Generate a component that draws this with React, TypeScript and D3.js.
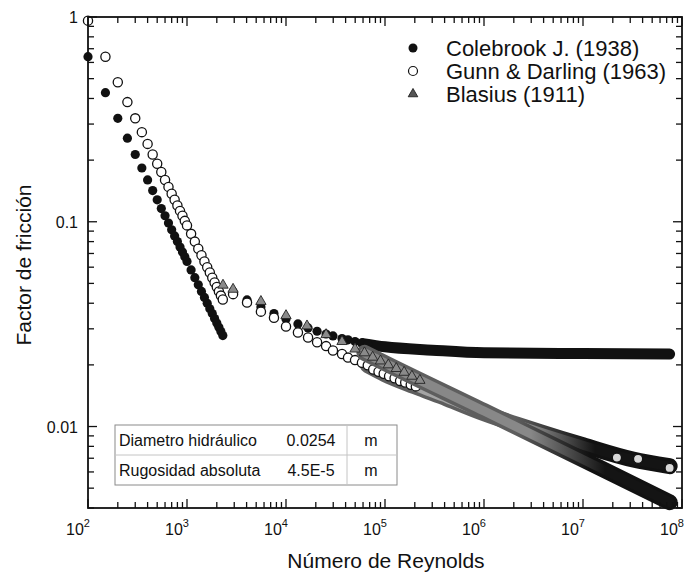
import * as d3 from "d3";

// laminar part, Re = 100 ... 2300
const lamRe = [100, 150, 200, 250, 300, 350, 400, 450, 500, 550, 600, 650, 700, 750, 800, 850, 900, 950, 1000, 1100, 1200, 1300, 1400, 1500, 1600, 1700, 1800, 1900, 2000, 2100, 2200, 2300];
const colebrookLam = [0.64, 0.427, 0.32, 0.256, 0.213, 0.183, 0.16, 0.142, 0.128, 0.116, 0.107, 0.0985, 0.0914, 0.0853, 0.08, 0.0753, 0.0711, 0.0674, 0.064, 0.0582, 0.0533, 0.0492, 0.0457, 0.0427, 0.04, 0.0376, 0.0356, 0.0337, 0.032, 0.0305, 0.0291, 0.0278];
const gunnLam = [0.96, 0.64, 0.48, 0.384, 0.32, 0.274, 0.24, 0.213, 0.192, 0.175, 0.16, 0.148, 0.137, 0.128, 0.12, 0.113, 0.107, 0.101, 0.096, 0.0873, 0.08, 0.0738, 0.0686, 0.064, 0.06, 0.0565, 0.0533, 0.0505, 0.048, 0.0457, 0.0436, 0.0417];

// turbulent markers still seen one by one
const colebrookRe = [2920, 4040, 5580, 7560, 10000, 13200, 16700, 20600, 25400, 29800, 36800, 42300, 49800, 58500, 67000];
const colebrookTurb = [0.0455, 0.0415, 0.0383, 0.0356, 0.0335, 0.0317, 0.0303, 0.0292, 0.0283, 0.0277, 0.0269, 0.0265, 0.026, 0.0256, 0.0253];
const gunnRe = [2920, 4040, 5580, 7560, 10000, 13200, 16700, 20600, 25400, 29800, 36800, 42300, 49800, 58500, 67000, 76000, 86000, 97000, 110000, 125000, 142000, 160000, 182000, 205000];
const gunnTurb = [0.0443, 0.0403, 0.0364, 0.034, 0.0308, 0.0288, 0.0272, 0.0258, 0.0247, 0.0235, 0.0226, 0.0217, 0.0211, 0.0205, 0.0199, 0.019, 0.0185, 0.0181, 0.0176, 0.0172, 0.0167, 0.0164, 0.016, 0.0157];
const blasiusRe = [2310, 2920, 5580, 10000, 16300, 25400, 36800, 49800, 62000, 75000, 90000, 108000, 130000, 156000, 187000, 225000];
const blasiusTurb = [0.049, 0.0468, 0.0408, 0.0348, 0.031, 0.0281, 0.026, 0.0239, 0.0229, 0.0218, 0.0209, 0.02, 0.0192, 0.0184, 0.0176, 0.0168];

// dense tails, where the markers merge into a band
const colebrookBandRe = [60000, 100000, 300000, 1000000, 10000000, 75000000];
const colebrookBand = [0.0254, 0.0245, 0.0236, 0.0229, 0.0227, 0.0226];
const gunnBandRe = [67000, 100000, 200000, 420000, 1000000, 3700000, 10000000, 32000000, 75000000];
const gunnBand = [0.0199, 0.018, 0.0157, 0.0137, 0.0116, 0.0094, 0.0081, 0.0069, 0.0064];
const blasiusBandRe = [62000, 100000, 1000000, 10000000, 75000000];
const blasiusBand = [0.0229, 0.0204, 0.0119, 0.0069, 0.00427];
// open circles that show on the dark Gunn & Darling tail
const gunnTailRe = [22000000, 36000000, 75000000];
const gunnTail = [0.00705, 0.00695, 0.00628];

const xExponents = ["2", "3", "4", "5", "6", "7", "8"];
const yTickValues = [0.01, 0.1, 1];
const yTickLabels = ["0.01", "0.1", "1"];
const legendLabels = ["Colebrook J. (1938)", "Gunn & Darling (1963)", "Blasius (1911)"];
const tableRows = [
  ["Diametro hidráulico", "0.0254", "m"],
  ["Rugosidad absoluta", "4.5E-5", "m"],
];

const font = "'Liberation Sans', Arial, sans-serif";

export default function App() {
  const width = 684;
  const height = 573;
  const x = d3.scaleLog([1e2, 1e8], [88, 682]);
  const y = d3.scaleLog([0.004, 1], [508, 17]);
  const line = d3
    .line<number[]>()
    .x((d) => x(d[0]))
    .y((d) => y(d[1]))
    .curve(d3.curveMonotoneX);
  const zip = (a: number[], b: number[]) => a.map((v, i) => [v, b[i]]);
  const isMajor = (v: number) => Math.abs(Math.log10(v) - Math.round(Math.log10(v))) < 1e-9;
  const tri = d3.symbol(d3.symbolTriangle, 46)();
  const triSmall = d3.symbol(d3.symbolTriangle, 40)();

  const xt = x.ticks();
  const yt = y.ticks();
  const r = 4.6;

  const gunnPts = zip(gunnBandRe, gunnBand);
  const blasPts = zip(blasiusBandRe, blasiusBand);

  return (
    <svg width={width} height={height} style={{ position: "absolute", left: 0, top: 0, background: "#fff" }} fontFamily={font}>
      <defs>
        <linearGradient id="outerG" gradientUnits="userSpaceOnUse" x1="515" x2="590" y1="0" y2="0">
          <stop offset="0" stopColor="#5e5e5e" />
          <stop offset="1" stopColor="#111" />
        </linearGradient>
        <linearGradient id="innerGunn" gradientUnits="userSpaceOnUse" x1="520" x2="595" y1="0" y2="0">
          <stop offset="0" stopColor="#a4a4a4" />
          <stop offset="1" stopColor="#141414" />
        </linearGradient>
        <linearGradient id="innerBlas" gradientUnits="userSpaceOnUse" x1="530" x2="605" y1="0" y2="0">
          <stop offset="0" stopColor="#888" />
          <stop offset="1" stopColor="#141414" />
        </linearGradient>
      </defs>

      {/* Colebrook */}
      <path d={line(zip(colebrookBandRe, colebrookBand))} fill="none" stroke="#111" strokeWidth={11} strokeLinecap="round" strokeLinejoin="round" />
      <g fill="#111">
        {zip(lamRe, colebrookLam).map((d, i) => (
          <circle key={"cl" + i} cx={x(d[0])} cy={y(d[1])} r={r} />
        ))}
        {zip(colebrookRe, colebrookTurb).map((d, i) => (
          <circle key={"ct" + i} cx={x(d[0])} cy={y(d[1])} r={r} />
        ))}
      </g>

      {/* Gunn & Darling */}
      <path d={line(gunnPts)} fill="none" stroke="url(#outerG)" strokeWidth={16} strokeLinecap="round" strokeLinejoin="round" />
      <path d={line(gunnPts)} fill="none" stroke="url(#innerGunn)" strokeWidth={9} strokeLinecap="round" strokeLinejoin="round" />
      <g fill="#fff" stroke="#111" strokeWidth={1.3}>
        {zip(lamRe, gunnLam).map((d, i) => (
          <circle key={"gl" + i} cx={x(d[0])} cy={y(d[1])} r={r} />
        ))}
        {zip(gunnRe, gunnTurb).map((d, i) => (
          <circle key={"gt" + i} cx={x(d[0])} cy={y(d[1])} r={r} />
        ))}
        {zip(gunnTailRe, gunnTail).map((d, i) => (
          <circle key={"gz" + i} cx={x(d[0])} cy={y(d[1])} r={r} fill="#d8d8d8" />
        ))}
      </g>

      {/* Blasius */}
      <path d={line(blasPts)} fill="none" stroke="url(#outerG)" strokeWidth={16} strokeLinecap="round" strokeLinejoin="round" />
      <path d={line(blasPts)} fill="none" stroke="url(#innerBlas)" strokeWidth={9} strokeLinecap="round" strokeLinejoin="round" />
      <g fill="#8a8a8a" stroke="#222" strokeWidth={0.9}>
        {zip(blasiusRe, blasiusTurb).map((d, i) => (
          <path key={"b" + i} d={tri} transform={`translate(${x(d[0])},${y(d[1])})`} />
        ))}
      </g>

      {/* frame and ticks */}
      <rect x={88} y={17} width={594} height={491} fill="none" stroke="#111" strokeWidth={1.8} />
      <g stroke="#111" strokeWidth={1.3}>
        {xt.map((v, i) => {
          const len = isMajor(v) ? 9 : 6;
          return (
            <g key={"xt" + i}>
              <line x1={x(v)} x2={x(v)} y1={508} y2={508 - len} />
              <line x1={x(v)} x2={x(v)} y1={17} y2={17 + len} />
            </g>
          );
        })}
        {yt.map((v, i) => {
          const len = isMajor(v) ? 9 : 6;
          return (
            <g key={"yt" + i}>
              <line x1={88} x2={88 + len} y1={y(v)} y2={y(v)} />
              <line x1={682} x2={682 - len} y1={y(v)} y2={y(v)} />
            </g>
          );
        })}
      </g>

      {/* tick labels */}
      <g fontSize={16} fill="#111">
        {xExponents.map((e) => (
          <text key={"xl" + e} x={x(Math.pow(10, +e)) - 22} y={535}>
            10<tspan dy={-8} fontSize={11}>{e}</tspan>
          </text>
        ))}
        {yTickValues.map((v, i) => (
          <text key={"yl" + i} x={78} y={y(v) + 6} textAnchor="end">
            {yTickLabels[i]}
          </text>
        ))}
      </g>

      {/* axis titles */}
      <text x={386} y={568} textAnchor="middle" fontSize={21} fill="#111">
        Número de Reynolds
      </text>
      <text transform="translate(31,265) rotate(-90)" textAnchor="middle" fontSize={21} fill="#111">
        Factor de fricción
      </text>

      {/* legend */}
      <g fontSize={22} fill="#111">
        <circle cx={413} cy={48} r={4.5} fill="#111" />
        <circle cx={413} cy={71} r={4.5} fill="#fff" stroke="#111" strokeWidth={1.2} />
        <path d={triSmall} transform="translate(413,94)" fill="#555" stroke="#111" strokeWidth={0.8} />
        {legendLabels.map((t, i) => (
          <text key={t} x={446} y={56 + i * 23}>
            {t}
          </text>
        ))}
      </g>

      {/* parameter table */}
      <g>
        <rect x={115} y={425} width={282} height={60} fill="#fff" stroke="#8a8a8a" strokeWidth={1} />
        <line x1={115} x2={397} y1={455} y2={455} stroke="#c4c4c4" strokeWidth={1} />
        <line x1={347} x2={347} y1={425} y2={485} stroke="#c4c4c4" strokeWidth={1} />
        {tableRows.map((row, i) => (
          <g key={"row" + i} fontSize={16} fill="#111">
            <text x={119} y={446 + i * 30}>{row[0]}</text>
            <text x={311} y={446 + i * 30} textAnchor="middle">{row[1]}</text>
            <text x={371} y={446 + i * 30} textAnchor="middle">{row[2]}</text>
          </g>
        ))}
      </g>
    </svg>
  );
}
